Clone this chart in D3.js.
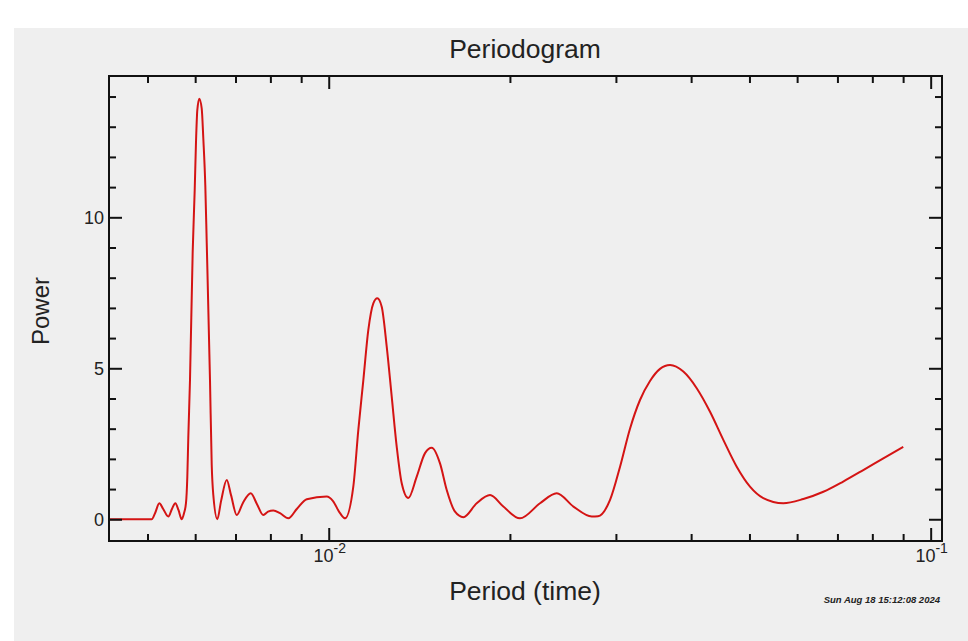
<!DOCTYPE html>
<html>
<head>
<meta charset="utf-8">
<script src="https://cdn.jsdelivr.net/npm/d3@7/dist/d3.min.js"></script>
<style>
  html, body { margin: 0; padding: 0; background: #ffffff; }
  svg { display: block; }
  text { font-family: "Liberation Sans", Arial, Helvetica, sans-serif; fill: #222; }
</style>
</head>
<body>
<svg id="chart" width="968" height="641"></svg>
<script>
// ---- data ----
const periods = [
  0.004315, 0.005081, 0.005146, 0.005231, 0.005306, 0.005414, 0.005492, 0.005561, 0.005630, 0.005699,
  0.005749, 0.005793, 0.005822, 0.005844, 0.005882, 0.005943, 0.005989, 0.006019, 0.006049, 0.006096,
  0.006152, 0.006190, 0.006237, 0.006271, 0.006350, 0.006392, 0.006431, 0.006531, 0.006624, 0.006770,
  0.006882, 0.007034, 0.007205, 0.007420, 0.007601, 0.007786, 0.007927, 0.008090, 0.008300, 0.008568,
  0.008858, 0.009194, 0.009924, 0.010166, 0.010442, 0.010643, 0.010986, 0.011199, 0.011415, 0.011636,
  0.011860, 0.012043, 0.012247, 0.012484, 0.012725, 0.012971, 0.013221, 0.013559, 0.014002, 0.014454,
  0.014829, 0.015307, 0.015705, 0.016211, 0.016734, 0.017614, 0.018533, 0.019500, 0.020784, 0.022439,
  0.023920, 0.025499, 0.027352, 0.028019, 0.029334, 0.030477, 0.031659, 0.032894, 0.034178, 0.035510,
  0.036897, 0.038823, 0.040864, 0.043000, 0.045242, 0.047621, 0.050100, 0.052714, 0.056902, 0.061441,
  0.066333, 0.071571, 0.077275, 0.083432, 0.090041
];
const power = [
  0.00, 0.00, 0.20, 0.53, 0.35, 0.09, 0.35, 0.53, 0.30, 0.00,
  0.20, 0.54, 1.40, 2.70, 4.60, 8.85, 10.90, 12.50, 13.55, 13.93,
  13.60, 12.60, 11.05, 9.16, 4.60, 1.80, 0.80, 0.00, 0.60, 1.30,
  0.80, 0.14, 0.55, 0.86, 0.50, 0.14, 0.25, 0.29, 0.20, 0.03,
  0.35, 0.66, 0.75, 0.60, 0.20, 0.03, 1.08, 2.96, 4.60, 6.27,
  7.15, 7.32, 7.04, 5.72, 4.06, 2.40, 1.19, 0.70, 1.41, 2.19,
  2.37, 1.85, 0.97, 0.25, 0.07, 0.53, 0.80, 0.42, 0.03, 0.53,
  0.86, 0.42, 0.09, 0.10, 0.64, 1.74, 3.00, 3.95, 4.58, 4.98,
  5.11, 4.89, 4.34, 3.56, 2.63, 1.74, 1.08, 0.70, 0.53, 0.67,
  0.91, 1.25, 1.63, 2.02, 2.40
];
const xDomain = [0.004315, 0.10443];
const yDomain = [-0.72, 14.68];
const xMajorTicks = [0.01, 0.1];
const xMajorLabels = [["10", "-2"], ["10", "-1"]];
const xMinorTicks = [0.005, 0.006, 0.007, 0.008, 0.009, 0.02, 0.03, 0.04, 0.05, 0.06, 0.07, 0.08, 0.09];
const yMajorTicks = [0, 5, 10];
const yMajorLabels = ["0", "5", "10"];
const yMinorTicks = [1, 2, 3, 4, 6, 7, 8, 9, 11, 12, 13, 14];
const titleText = "Periodogram";
const xLabel = "Period (time)";
const yLabel = "Power";
const stampText = "Sun Aug 18 15:12:08 2024";

// ---- layout ----
const svg = d3.select("#chart");
const W = 968, H = 641;
const L = 109, R = 942, T = 76, B = 541;

svg.append("rect").attr("x", 14).attr("y", 28).attr("width", W - 14).attr("height", H - 28)
  .attr("fill", "#efefef");

const x = d3.scaleLog().domain(xDomain).range([L, R]);
const y = d3.scaleLinear().domain(yDomain).range([B, T]);

svg.append("defs").append("clipPath").attr("id", "clip")
  .append("rect").attr("x", L).attr("y", T).attr("width", R - L).attr("height", B - T);

// data line
const data = periods.map((p, i) => ({ p, v: power[i] }));
const line = d3.line().x(d => x(d.p)).y(d => y(d.v)).curve(d3.curveMonotoneX);
svg.append("path").datum(data)
  .attr("clip-path", "url(#clip)")
  .attr("fill", "none")
  .attr("stroke", "#d41414")
  .attr("stroke-width", 2)
  .attr("stroke-linejoin", "round")
  .attr("d", line);

// axes helper
function styleAxis(g) {
  g.select(".domain").remove();
  g.selectAll(".tick line").attr("stroke", "#111").attr("stroke-width", 2);
  g.selectAll(".tick text").remove();
}
// bottom
svg.append("g").attr("transform", `translate(0,${B})`)
  .call(d3.axisBottom(x).tickValues(xMinorTicks).tickSize(-7)).call(styleAxis);
svg.append("g").attr("transform", `translate(0,${B})`)
  .call(d3.axisBottom(x).tickValues(xMajorTicks).tickSize(-13)).call(styleAxis);
// top
svg.append("g").attr("transform", `translate(0,${T})`)
  .call(d3.axisTop(x).tickValues(xMinorTicks).tickSize(-7)).call(styleAxis);
svg.append("g").attr("transform", `translate(0,${T})`)
  .call(d3.axisTop(x).tickValues(xMajorTicks).tickSize(-13)).call(styleAxis);
// left
svg.append("g").attr("transform", `translate(${L},0)`)
  .call(d3.axisLeft(y).tickValues(yMinorTicks).tickSize(-7)).call(styleAxis);
svg.append("g").attr("transform", `translate(${L},0)`)
  .call(d3.axisLeft(y).tickValues(yMajorTicks).tickSize(-13)).call(styleAxis);
// right
svg.append("g").attr("transform", `translate(${R},0)`)
  .call(d3.axisRight(y).tickValues(yMinorTicks).tickSize(-7)).call(styleAxis);
svg.append("g").attr("transform", `translate(${R},0)`)
  .call(d3.axisRight(y).tickValues(yMajorTicks).tickSize(-13)).call(styleAxis);

// frame
svg.append("rect").attr("x", L).attr("y", T).attr("width", R - L).attr("height", B - T)
  .attr("fill", "none").attr("stroke", "#111").attr("stroke-width", 2);

// y tick labels
svg.selectAll(".ylab").data(yMajorTicks).enter().append("text")
  .attr("class", "ylab")
  .attr("x", L - 5)
  .attr("y", d => y(d) + 6.5)
  .attr("text-anchor", "end")
  .attr("font-size", 18)
  .attr("fill", "#333")
  .text((d, i) => yMajorLabels[i]);

// x tick labels (10 with superscript exponent)
xMajorTicks.forEach((t, i) => {
  const tx = svg.append("text")
    .attr("x", x(t) + 1)
    .attr("y", 562)
    .attr("text-anchor", "middle")
    .attr("font-size", 18)
    .attr("fill", "#333");
  tx.append("tspan").text(xMajorLabels[i][0]);
  tx.append("tspan").attr("dy", -9).attr("font-size", 14).text(xMajorLabels[i][1]);
});

// title and axis labels
svg.append("text").attr("x", 525).attr("y", 58).attr("text-anchor", "middle")
  .attr("font-size", 26.5).attr("fill", "#222").text(titleText);
svg.append("text").attr("x", 525).attr("y", 600).attr("text-anchor", "middle")
  .attr("font-size", 26.5).attr("fill", "#222").text(xLabel);
svg.append("text").attr("transform", "translate(49,311) rotate(-90)").attr("text-anchor", "middle")
  .attr("font-size", 24).attr("fill", "#222").text(yLabel);

// date stamp
svg.append("text").attr("x", 940).attr("y", 603).attr("text-anchor", "end")
  .attr("font-size", 9.5).attr("font-weight", "bold").attr("font-style", "italic")
  .attr("fill", "#333").text(stampText);
</script>
</body>
</html>
